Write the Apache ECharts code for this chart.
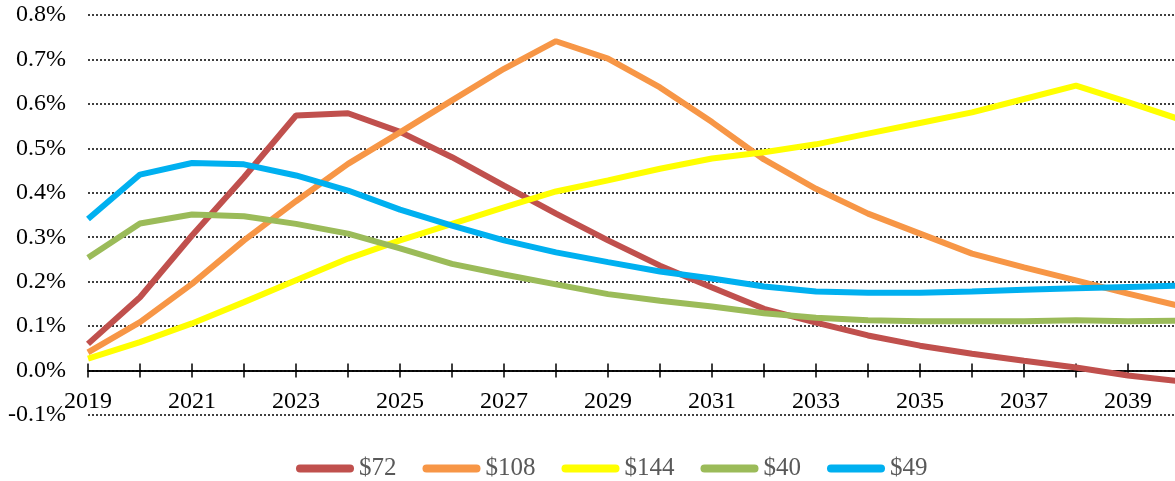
<!DOCTYPE html>
<html>
<head>
<meta charset="utf-8">
<script src="https://cdn.jsdelivr.net/npm/echarts@6/dist/echarts.min.js"></script>
<style>
  html, body { margin: 0; padding: 0; background: #fff; }
  #chart { width: 1175px; height: 481px; }
</style>
</head>
<body>
<div id="chart"></div>
<script>
const years = ["2019", "2020", "2021", "2022", "2023", "2024", "2025", "2026", "2027", "2028", "2029",
  "2030", "2031", "2032", "2033", "2034", "2035", "2036", "2037", "2038", "2039", "2040"];

// values in percent
const price72 = [0.06, 0.165, 0.304, 0.435, 0.574, 0.579, 0.537, 0.48, 0.416, 0.353, 0.293,
  0.236, 0.187, 0.139, 0.108, 0.079, 0.056, 0.038, 0.022, 0.007, -0.011, -0.024];
const price108 = [0.041, 0.109, 0.195, 0.293, 0.381, 0.465, 0.536, 0.608, 0.679, 0.741, 0.702,
  0.637, 0.559, 0.475, 0.409, 0.353, 0.308, 0.263, 0.232, 0.203, 0.173, 0.145];
const price144 = [0.027, 0.064, 0.106, 0.154, 0.203, 0.252, 0.293, 0.33, 0.367, 0.403, 0.428,
  0.454, 0.477, 0.491, 0.509, 0.533, 0.557, 0.581, 0.611, 0.641, 0.604, 0.565];
const price40 = [0.254, 0.331, 0.351, 0.347, 0.33, 0.308, 0.275, 0.24, 0.216, 0.194, 0.172,
  0.157, 0.144, 0.129, 0.119, 0.113, 0.111, 0.111, 0.111, 0.113, 0.111, 0.112];
const price49 = [0.341, 0.441, 0.467, 0.464, 0.439, 0.405, 0.362, 0.326, 0.293, 0.266, 0.244,
  0.223, 0.207, 0.189, 0.178, 0.175, 0.175, 0.178, 0.182, 0.185, 0.188, 0.191];

const seriesNames = ["$72", "$108", "$144", "$40", "$49"];
const seriesColors = ["#C0504D", "#F79646", "#FFFF00", "#9BBB59", "#00B0F0"];
const seriesData = [price72, price108, price144, price40, price49];

const font = "'Liberation Serif', 'DejaVu Serif', serif";

const chart = echarts.init(document.getElementById("chart"), null, { renderer: "canvas" });

// two x axes share the zero line: one draws ticks down + labels, the other ticks up
const option = {
  backgroundColor: "#fff",
  animation: false,
  grid: { left: 88, right: -5, top: 15, bottom: 66, containLabel: false, outerBoundsMode: "none" },
  legend: {
    left: 291,
    top: 451,
    icon: "path://M4 0H54A4 4 0 0 1 54 8H4A4 4 0 0 1 4 0Z",
    itemWidth: 58,
    itemHeight: 8,
    itemGap: 26,
    textStyle: { fontFamily: font, fontSize: 25, color: "#595959" },
    data: seriesNames,
  },
  xAxis: [
    {
      type: "category",
      data: years,
      boundaryGap: false,
      axisLine: { onZero: true, onZeroAxisIndex: 0, lineStyle: { color: "#000", width: 1.5 } },
      axisTick: { show: true, interval: 0, length: 7, lineStyle: { color: "#000", width: 1.5 } },
      // labels sit at the grid bottom in v6, so pull them up under the zero line
      axisLabel: { interval: 1, margin: -25, color: "#000", fontFamily: font, fontSize: 24 },
      splitLine: { show: false },
    },
    {
      type: "category",
      data: years,
      position: "top",
      boundaryGap: false,
      axisLine: { onZero: true, onZeroAxisIndex: 0, lineStyle: { color: "#000", width: 1.5 } },
      axisTick: { show: true, interval: 0, length: 7, lineStyle: { color: "#000", width: 1.5 } },
      axisLabel: { show: false },
      splitLine: { show: false },
    },
  ],
  yAxis: {
    type: "value",
    min: -0.1,
    max: 0.8,
    interval: 0.1,
    axisLine: { show: false },
    axisTick: { show: false },
    axisLabel: {
      margin: 22,
      color: "#000",
      fontFamily: font,
      fontSize: 24,
      formatter: (v) => v.toFixed(1) + "%",
    },
    splitLine: { lineStyle: { color: "#000", width: 1.5, type: [2, 2] } },
  },
  series: seriesNames.map((name, i) => ({
    name: name,
    type: "line",
    data: seriesData[i],
    symbol: "none",
    smooth: false,
    lineStyle: { color: seriesColors[i], width: 6 },
    itemStyle: { color: seriesColors[i] },
  })),
};

chart.setOption(option);
</script>
</body>
</html>
